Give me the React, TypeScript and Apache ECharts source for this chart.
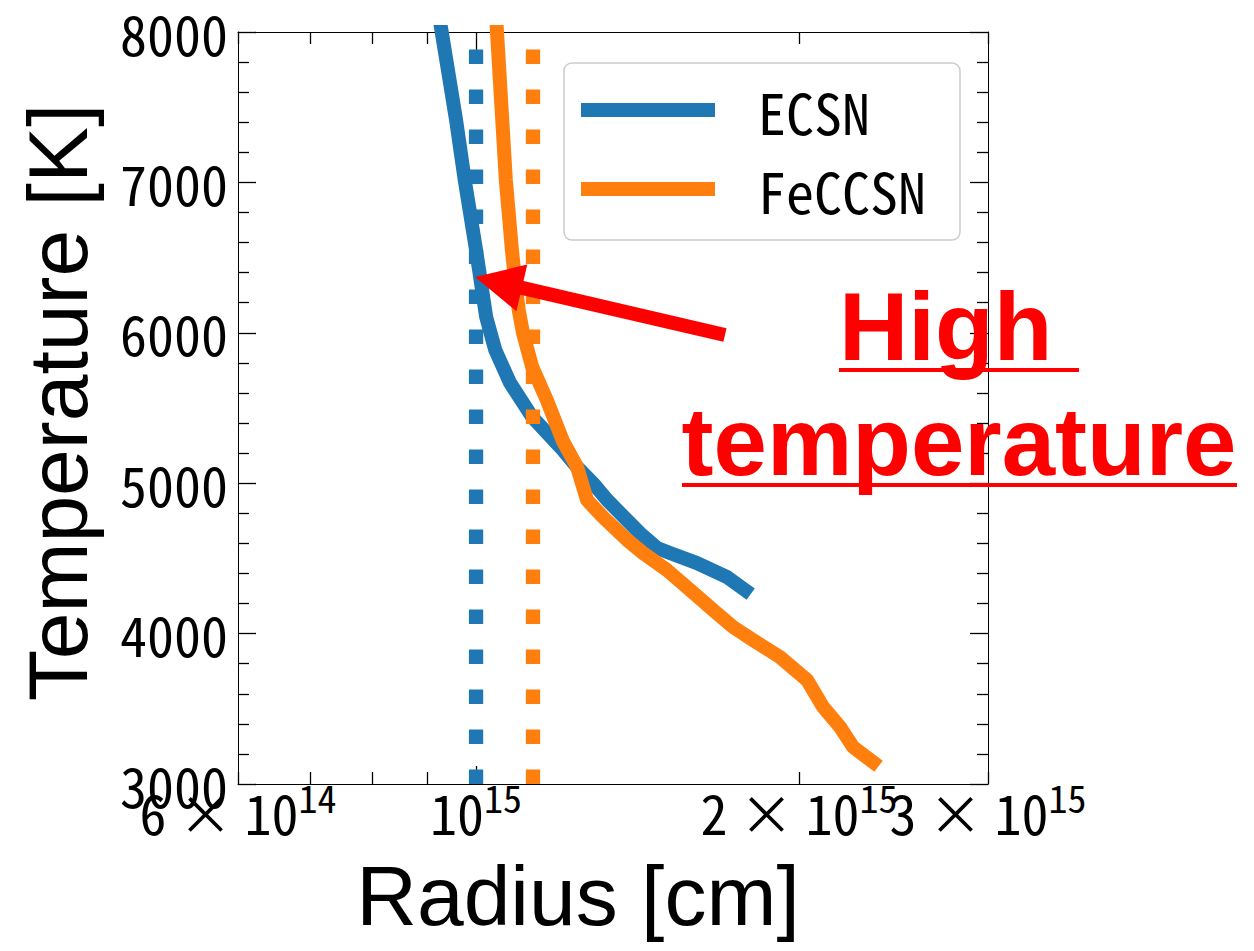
import React, { useEffect, useRef } from 'react';
import * as echarts from 'echarts';

// ---- data (radius in cm, temperature in K) ----
const ECSN_RADIUS = [0.919e15, 0.929e15, 0.958e15, 0.976e15, 1.0e15, 1.022e15, 1.042e15, 1.076e15, 1.128e15, 1.205e15, 1.242e15, 1.285e15, 1.325e15, 1.421e15, 1.475e15, 1.516e15, 1.607e15, 1.714e15, 1.781e15];
const ECSN_TEMP = [8200, 8000, 7415, 7016, 6551, 6105, 5886, 5666, 5440, 5221, 5108, 5001, 4888, 4669, 4569, 4536, 4469, 4376, 4290];

const FECCSN_RADIUS = [1.042e15, 1.046e15, 1.066e15, 1.08e15, 1.088e15, 1.096e15, 1.106e15, 1.128e15, 1.164e15, 1.205e15, 1.242e15, 1.269e15, 1.313e15, 1.383e15, 1.431e15, 1.506e15, 1.583e15, 1.663e15, 1.736e15, 1.812e15, 1.92e15, 2.035e15, 2.106e15, 2.184e15, 2.246e15, 2.344e15];
const FECCSN_TEMP = [8200, 8000, 7016, 6551, 6331, 6150, 5999, 5773, 5553, 5280, 5108, 4888, 4775, 4622, 4536, 4423, 4290, 4157, 4044, 3957, 3844, 3691, 3512, 3379, 3246, 3146];

const VLINE_RADIUS = [1.0e15, 1.13e15];
const VLINE_TEMP = [3000, 8000];

const SERIES_NAMES = ['ECSN', 'FeCCSN'];
const COLORS = ['#1f77b4', '#ff7f0e'];

const X_MIN = 6e14;
const X_MAX = 3e15;
const X_MINOR_TICKS = [6e14, 7e14, 8e14, 9e14, 2e15, 3e15];
const X_MAJOR_TICKS = [1e15];
const X_LABEL_VALUES = [6e14, 1e15, 2e15, 3e15];
const X_LABEL_MANTISSA = ['6', '', '2', '3'];
const X_LABEL_EXPONENT = ['14', '15', '15', '15'];
// labels drawn by the first axis / by the second (so that overlapping labels are all kept)
const X_LABELS_A = [6e14, 1e15, 3e15];
const X_LABELS_B = [2e15];

const Y_MIN = 3000;
const Y_MAX = 8000;
const Y_STEP = 1000;

const ARROW_TAIL = [1.706e15, 5985];
const ARROW_HEAD = [0.998e15, 6371];
const NOTE_ANCHOR = [2.819e15, 5819];
const NOTE_TEXT = 'High \ntemperature';

const MONO = '"Noto Sans Mono CJK JP", "Noto Sans CJK JP", "DejaVu Sans Mono", monospace';
const SANS = '"Liberation Sans", Arial, sans-serif';

const lx = (v: number) => Math.log10(v);

export default function App() {
  const ref = useRef<HTMLDivElement>(null);

  useEffect(() => {
    document.body.style.margin = '0';
    if (!ref.current) return;
    const chart = echarts.init(ref.current, undefined, { renderer: 'svg' });

    const axisLine = { show: true, lineStyle: { color: '#000', width: 1 } };
    const tickStyle = { color: '#000', width: 1.3 };
    const xBase = {
      type: 'value' as const,
      min: lx(X_MIN),
      max: lx(X_MAX),
      splitLine: { show: false },
    };

    const labelFormatter = (v: number) => {
      const i = X_LABEL_VALUES.findIndex((x) => Math.abs(lx(x) - v) < 1e-6);
      if (i < 0) return '';
      const mant = X_LABEL_MANTISSA[i];
      return (mant ? `{m|${mant}}{x|×}` : '') + `{m|10}{s|${X_LABEL_EXPONENT[i]}}`;
    };

    const xLabel = (values: number[]) => ({
      show: true,
      customValues: values.map(lx),
      formatter: labelFormatter,
      showMinLabel: true,
      showMaxLabel: true,
      hideOverlap: false,
      margin: 0,
      color: '#000',
      rich: {
        m: { fontSize: 54, lineHeight: 54, fontFamily: MONO, color: '#000' },
        x: { fontSize: 54, lineHeight: 54, fontFamily: MONO, color: '#000', padding: [0, 12, 0, 12] },
        s: { fontSize: 38, lineHeight: 38, fontFamily: MONO, color: '#000', padding: [0, 0, 30, 0] },
      },
    });

    const yBase = {
      type: 'value' as const,
      min: Y_MIN,
      max: Y_MAX,
      interval: Y_STEP,
      splitLine: { show: false },
      axisLine,
      axisTick: { show: true, inside: true, length: 18, lineStyle: tickStyle },
      minorTick: { show: true, splitNumber: 5, length: 11, lineStyle: tickStyle },
    };

    const option: any = {
      animation: false,
      backgroundColor: '#fff',
      grid: { left: 238, top: 32, right: 266, bottom: 167, containLabel: false, outerBoundsMode: 'none' },
      legend: {
        data: SERIES_NAMES,
        orient: 'vertical',
        left: 564,
        top: 63,
        icon: 'rect',
        itemWidth: 134,
        itemHeight: 14,
        itemGap: 19,
        padding: [17, 34, 21, 17],
        backgroundColor: 'rgba(255,255,255,0.8)',
        borderColor: '#cccccc',
        borderWidth: 1.5,
        borderRadius: 8,
        itemStyle: { borderWidth: 0 },
        textStyle: { fontSize: 56, fontFamily: MONO, color: '#000', lineHeight: 60, padding: [0, 0, 0, 38] },
      },
      xAxis: [
        {
          ...xBase,
          position: 'bottom',
          axisLine,
          axisTick: { show: true, inside: true, length: 12, customValues: X_MINOR_TICKS.map(lx), lineStyle: tickStyle },
          axisLabel: xLabel(X_LABELS_A),
          name: 'Radius [cm]',
          nameLocation: 'middle',
          nameGap: 70,
          nameMoveOverlap: false,
          nameTextStyle: { fontSize: 84, fontFamily: SANS, color: '#000', padding: [0, 70, 0, 0] },
        },
        {
          ...xBase,
          position: 'bottom',
          axisLine: { show: false },
          axisTick: { show: true, inside: true, length: 18, customValues: X_MAJOR_TICKS.map(lx), lineStyle: tickStyle },
          axisLabel: xLabel(X_LABELS_B),
        },
        {
          ...xBase,
          position: 'top',
          axisLine,
          axisTick: { show: true, inside: true, length: 12, customValues: X_MINOR_TICKS.map(lx), lineStyle: tickStyle },
          axisLabel: { show: false },
        },
        {
          ...xBase,
          position: 'top',
          axisLine: { show: false },
          axisTick: { show: true, inside: true, length: 18, customValues: X_MAJOR_TICKS.map(lx), lineStyle: tickStyle },
          axisLabel: { show: false },
        },
      ],
      yAxis: [
        {
          ...yBase,
          position: 'left',
          axisLabel: {
            show: true,
            fontSize: 54,
            fontFamily: MONO,
            color: '#000',
            margin: 10,
            formatter: (v: number) => String(v),
          },
          name: 'Temperature [K]',
          nameLocation: 'middle',
          nameGap: 138,
          nameMoveOverlap: false,
          nameTextStyle: { fontSize: 84, fontFamily: SANS, color: '#000', padding: [0, 0, 0, 11] },
        },
        {
          ...yBase,
          position: 'right',
          axisLabel: { show: false },
        },
      ],
      series: [
        {
          name: SERIES_NAMES[0],
          type: 'line',
          xAxisIndex: 0,
          yAxisIndex: 0,
          data: ECSN_RADIUS.map((r, i) => [lx(r), ECSN_TEMP[i]]),
          showSymbol: false,
          symbol: 'none',
          clip: true,
          color: COLORS[0],
          lineStyle: { color: COLORS[0], width: 14, cap: 'square', join: 'round' },
          z: 2,
        },
        {
          name: SERIES_NAMES[1],
          type: 'line',
          xAxisIndex: 0,
          yAxisIndex: 0,
          data: FECCSN_RADIUS.map((r, i) => [lx(r), FECCSN_TEMP[i]]),
          showSymbol: false,
          symbol: 'none',
          clip: true,
          color: COLORS[1],
          lineStyle: { color: COLORS[1], width: 14, cap: 'square', join: 'round' },
          z: 3,
        },
        ...VLINE_RADIUS.map((r, k) => ({
          name: SERIES_NAMES[k] + ' photosphere',
          type: 'line',
          xAxisIndex: 0,
          yAxisIndex: 0,
          data: VLINE_TEMP.map((t) => [lx(r), t]),
          showSymbol: false,
          symbol: 'none',
          color: COLORS[k],
          lineStyle: { color: COLORS[k], width: 14.3, type: [14.5, 25.5], cap: 'butt' },
          silent: true,
          z: 4 + k,
        })),
      ],
    };

    chart.setOption(option);

    const px = (p: number[]) => chart.convertToPixel({ xAxisIndex: 0, yAxisIndex: 0 }, [lx(p[0]), p[1]]) as number[];
    const tail = px(ARROW_TAIL);
    const head = px(ARROW_HEAD);
    const dx = head[0] - tail[0];
    const dy = head[1] - tail[1];
    const len = Math.hypot(dx, dy);
    const ux = dx / len;
    const uy = dy / len;
    const headLen = 48;
    const halfW = 24;
    const bx = head[0] - ux * headLen;
    const by = head[1] - uy * headLen;
    const nx = -uy;
    const ny = ux;
    const note = px(NOTE_ANCHOR);

    chart.setOption({
      graphic: [
        {
          type: 'line',
          shape: { x1: tail[0], y1: tail[1], x2: bx + ux * 2, y2: by + uy * 2 },
          style: { stroke: '#ff0000', lineWidth: 14, lineCap: 'butt' },
          z: 10,
        },
        {
          type: 'polygon',
          shape: {
            points: [
              [head[0], head[1]],
              [bx + nx * halfW, by + ny * halfW],
              [bx - nx * halfW, by - ny * halfW],
            ],
          },
          style: { fill: '#ff0000' },
          z: 10,
        },
        {
          type: 'text',
          x: note[0],
          y: note[1] - 91,
          style: {
            text: NOTE_TEXT,
            fill: '#ff0000',
            font: `bold 96px ${SANS}`,
            align: 'center',
            verticalAlign: 'top',
            lineHeight: 115,
          },
          z: 10,
        },
        {
          type: 'rect',
          shape: { x: note[0] - 120, y: note[1] + 8, width: 240, height: 4 },
          style: { fill: '#ff0000' },
          z: 10,
        },
        {
          type: 'rect',
          shape: { x: note[0] - 277, y: note[1] + 123, width: 555, height: 4 },
          style: { fill: '#ff0000' },
          z: 10,
        },
      ],
    });

    return () => chart.dispose();
  }, []);

  return <div ref={ref} style={{ width: 1254, height: 951 }} />;
}
